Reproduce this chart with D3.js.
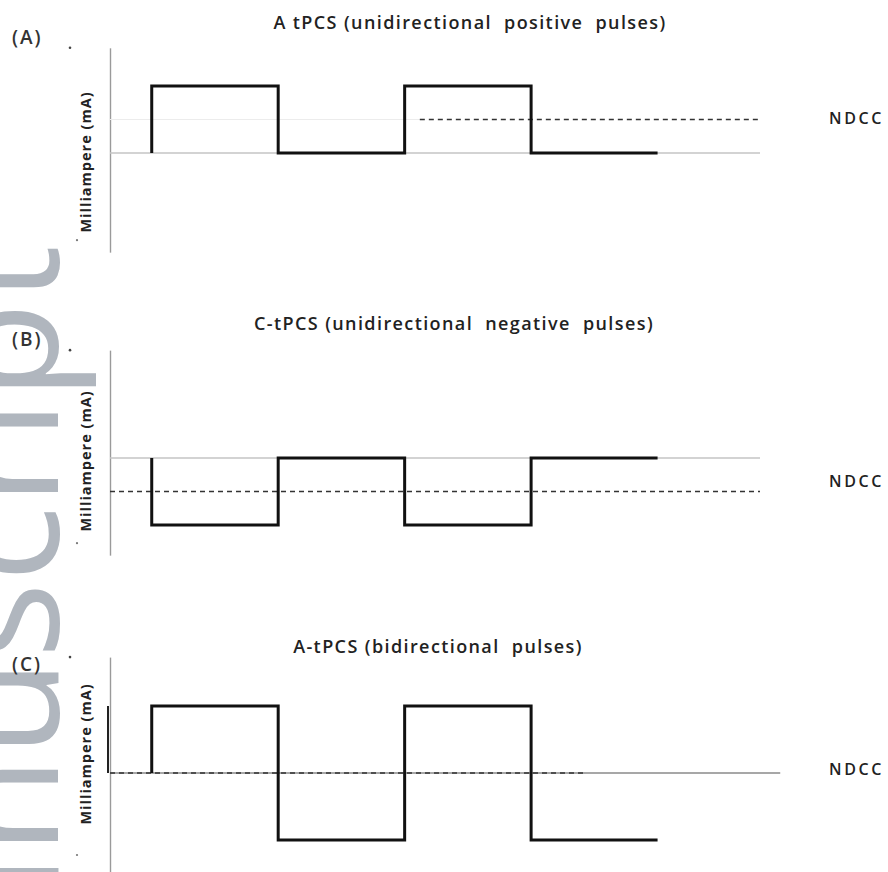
<!DOCTYPE html>
<html>
<head>
<meta charset="utf-8">
<script src="https://cdn.jsdelivr.net/npm/d3@7"></script>
<style>
  body { margin: 0; background: #fff; }
  text { font-family: "Open Sans", sans-serif; }
</style>
</head>
<body>
<div id="chart"></div>
<script>
const width = 888;
const height = 872;

// time in half-periods, current level of each waveform (step after)
const pulseTimes = [0.33, 0.33, 1.33, 2.33, 3.33, 4.33];
const levelsA = [0, 1, 0, 1, 0, 0];
const levelsB = [0, -1, 0, -1, 0, 0];
const levelsC = [0, 1, -1, 1, -1, -1];

// net DC current level and the span of its dashed line
const ndccLevels = [0.5, -0.5, 0];
const ndccStart = [2.45, 0, 0];
const ndccEnd = [5.14, 5.14, 3.76];

const panelLabels = ["(A)", "(B)", "(C)"];
const panelTitles = [
  "A tPCS (unidirectional  positive  pulses)",
  "C-tPCS (unidirectional  negative  pulses)",
  "A-tPCS (bidirectional  pulses)"
];
const yLabel = "Milliampere (mA)";
const ndccLabel = "NDCC";
const watermark = "manuscript";

const svg = d3.select("#chart")
  .append("svg")
  .attr("width", width)
  .attr("height", height);

// faint watermark behind everything
svg.append("text")
  .attr("transform", "translate(58,245) rotate(-90)")
  .attr("text-anchor", "end")
  .style("font-size", "160px")
  .style("fill", "#b0b6be")
  .text(watermark);

const x = d3.scaleLinear().domain([0, 5.14]).range([110, 760]);

const panels = [
  { levels: levelsA, zero: 153, yDomain: [-1.48, 1.57], lineEnd: 5.14, zeroColor: "#c4c4c4",
    titleX: 470, titleY: 29, labelY: 44, ndccY: 124, yLabelMid: 162 },
  { levels: levelsB, zero: 458, yDomain: [-1.45, 1.61], lineEnd: 5.14, zeroColor: "#c4c4c4",
    titleX: 454, titleY: 330, labelY: 346, ndccY: 487, yLabelMid: 461 },
  { levels: levelsC, zero: 773, yDomain: [-1.48, 1.73], lineEnd: 5.3, zeroColor: "#8a8a8a",
    titleX: 438, titleY: 653, labelY: 671, ndccY: 775, yLabelMid: 754 }
];

panels.forEach((p, i) => {
  const g = svg.append("g");
  const y = d3.scaleLinear().domain([-1, 1]).range([p.zero + 67, p.zero - 67]);
  const yAxisScale = y.copy().domain(p.yDomain).range([y(p.yDomain[0]), y(p.yDomain[1])]);

  // y axis, no ticks
  g.append("g")
    .attr("transform", `translate(${x(0)},0)`)
    .call(d3.axisLeft(yAxisScale).ticks(0).tickSizeOuter(0))
    .select(".domain")
    .attr("stroke", "#9a9a9a")
    .attr("stroke-width", 1.4);

  // zero line
  g.append("line")
    .attr("x1", x(0)).attr("x2", x(p.lineEnd))
    .attr("y1", y(0)).attr("y2", y(0))
    .attr("stroke", p.zeroColor)
    .attr("stroke-width", 1.4);

  if (i === 0) {
    // faint guide at the NDCC level
    g.append("line")
      .attr("x1", x(0)).attr("x2", x(ndccStart[0]))
      .attr("y1", y(ndccLevels[0])).attr("y2", y(ndccLevels[0]))
      .attr("stroke", "#ececec");
  }

  // NDCC dashed line
  g.append("line")
    .attr("x1", x(ndccStart[i])).attr("x2", x(ndccEnd[i]))
    .attr("y1", y(ndccLevels[i])).attr("y2", y(ndccLevels[i]))
    .attr("stroke", "#333")
    .attr("stroke-width", 1.6)
    .attr("stroke-dasharray", "5,4");

  // pulse train
  const line = d3.line()
    .x((d, k) => x(pulseTimes[k]))
    .y(d => y(d))
    .curve(d3.curveStepAfter);

  g.append("path")
    .datum(p.levels)
    .attr("d", line)
    .attr("fill", "none")
    .attr("stroke", "#111")
    .attr("stroke-width", 3);

  if (i === 2) {
    // dark segment on the axis up to the positive level
    g.append("line")
      .attr("x1", x(0) - 2).attr("x2", x(0) - 2)
      .attr("y1", y(0)).attr("y2", y(1))
      .attr("stroke", "#222")
      .attr("stroke-width", 2);
  }

  // small marks near the axis
  g.append("circle")
    .attr("cx", 70).attr("cy", y(p.yDomain[1]))
    .attr("r", 1.3).attr("fill", "#444");
  g.append("circle")
    .attr("cx", 77).attr("cy", Math.min(y(p.yDomain[0]) - 12, 855))
    .attr("r", 1.1).attr("fill", "#777");

  // texts
  g.append("text")
    .attr("x", p.titleX).attr("y", p.titleY)
    .attr("text-anchor", "middle")
    .style("white-space", "pre")
    .style("font-size", "18px")
    .style("font-weight", 600)
    .style("letter-spacing", "1.4px")
    .style("fill", "#222")
    .text(panelTitles[i]);

  g.append("text")
    .attr("x", 12).attr("y", p.labelY)
    .style("font-size", "19px")
    .style("font-weight", 600)
    .style("letter-spacing", "2px")
    .style("fill", "#333")
    .text(panelLabels[i]);

  g.append("text")
    .attr("transform", `translate(91,${p.yLabelMid}) rotate(-90)`)
    .attr("text-anchor", "middle")
    .style("font-size", "14.5px")
    .style("font-weight", 700)
    .style("letter-spacing", "1px")
    .style("fill", "#222")
    .text(yLabel);

  g.append("text")
    .attr("x", 829).attr("y", p.ndccY)
    .style("font-size", "16px")
    .style("font-weight", 600)
    .style("letter-spacing", "2.6px")
    .style("fill", "#222")
    .text(ndccLabel);
});
</script>
</body>
</html>
